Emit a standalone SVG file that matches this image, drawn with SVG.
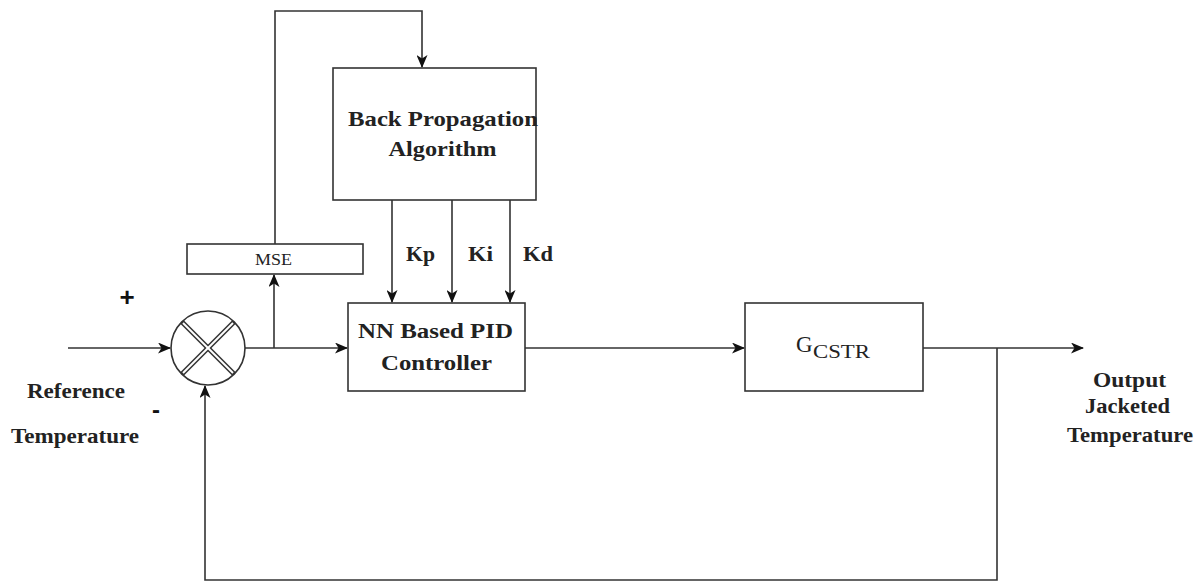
<svg xmlns="http://www.w3.org/2000/svg" width="1203" height="583" viewBox="0 0 1203 583">
  <style>
    .box { fill: #ffffff; stroke: #333333; stroke-width: 1.6; }
    .wire { fill: none; stroke: #333333; stroke-width: 1.6; }
    .lbl { font-family: "Liberation Serif", "Times New Roman", serif; font-weight: bold; font-size: 22px; fill: #222222; text-anchor: middle; }
    .side { font-size: 20px; }
    .sign { font-family: "Liberation Sans", Arial, sans-serif; font-weight: bold; fill: #111111; text-anchor: middle; }
  </style>
  <defs>
    <marker id="arrow" viewBox="0 0 13 11" refX="12" refY="5.5" markerWidth="13" markerHeight="11" markerUnits="userSpaceOnUse" orient="auto">
      <path d="M0,0 L13,5.5 L0,11 L3.5,5.5 Z" fill="#111111"/>
    </marker>
  </defs>
  <rect width="1203" height="583" fill="#ffffff"/>

  <!-- signal lines -->
  <g id="connectors">
    <line class="wire" x1="68" y1="348" x2="170" y2="348" marker-end="url(#arrow)"/>
    <line class="wire" x1="245" y1="348" x2="347" y2="348" marker-end="url(#arrow)"/>
    <line class="wire" x1="274" y1="348" x2="274" y2="275" marker-end="url(#arrow)"/>
    <polyline class="wire" points="275,244 275,11 422,11 422,67" marker-end="url(#arrow)"/>
    <line class="wire" x1="392" y1="200" x2="392" y2="302" marker-end="url(#arrow)"/>
    <line class="wire" x1="452" y1="200" x2="452" y2="302" marker-end="url(#arrow)"/>
    <line class="wire" x1="510" y1="200" x2="510" y2="302" marker-end="url(#arrow)"/>
    <line class="wire" x1="525" y1="348" x2="744" y2="348" marker-end="url(#arrow)"/>
    <line class="wire" x1="923" y1="348" x2="1083" y2="348" marker-end="url(#arrow)"/>
    <polyline class="wire" points="997,348 997,580 205,580 205,386" marker-end="url(#arrow)"/>
  </g>

  <!-- summing junction -->
  <g id="sum">
    <circle cx="208" cy="348" r="37" fill="#ffffff" stroke="#333333" stroke-width="1.6"/>
    <line x1="182" y1="322" x2="234" y2="374" stroke="#333333" stroke-width="5"/>
    <line x1="182" y1="374" x2="234" y2="322" stroke="#333333" stroke-width="5"/>
    <line x1="183" y1="323" x2="233" y2="373" stroke="#ffffff" stroke-width="2"/>
    <line x1="183" y1="373" x2="233" y2="323" stroke="#ffffff" stroke-width="2"/>
    <text class="sign" x="127" y="306" font-size="26">+</text>
    <text class="sign" x="156" y="418" font-size="24">-</text>
  </g>

  <g id="mse">
    <rect class="box" x="187" y="244" width="176" height="30"/>
    <text x="273.5" y="265" font-family="Liberation Serif, serif" font-size="17" fill="#222222" text-anchor="middle" textLength="37" lengthAdjust="spacingAndGlyphs">MSE</text>
  </g>

  <g id="backprop">
    <rect class="box" x="333" y="68" width="203" height="132"/>
    <text class="lbl" x="443" y="126" textLength="190" lengthAdjust="spacingAndGlyphs">Back Propagation</text>
    <text class="lbl" x="442.5" y="156" textLength="108" lengthAdjust="spacingAndGlyphs">Algorithm</text>
  </g>

  <g id="gains">
    <text class="lbl" x="420.5" y="261" textLength="29" lengthAdjust="spacingAndGlyphs">Kp</text>
    <text class="lbl" x="480.5" y="261" textLength="25" lengthAdjust="spacingAndGlyphs">Ki</text>
    <text class="lbl" x="538" y="261" textLength="30" lengthAdjust="spacingAndGlyphs">Kd</text>
  </g>

  <g id="controller">
    <rect class="box" x="348" y="303" width="177" height="88"/>
    <text class="lbl" x="435.5" y="338" textLength="155" lengthAdjust="spacingAndGlyphs">NN Based PID</text>
    <text class="lbl" x="436.5" y="370" textLength="111" lengthAdjust="spacingAndGlyphs">Controller</text>
  </g>

  <g id="plant">
    <rect class="box" x="745" y="303" width="178" height="88"/>
    <text x="796" y="352" font-family="Liberation Serif, serif" font-size="23" fill="#222222">G<tspan x="813" y="358" font-size="18" textLength="57" lengthAdjust="spacingAndGlyphs">CSTR</tspan></text>
  </g>

  <g id="reference">
    <text class="lbl side" x="76" y="398" textLength="98" lengthAdjust="spacingAndGlyphs">Reference</text>
    <text class="lbl side" x="75" y="443" textLength="128" lengthAdjust="spacingAndGlyphs">Temperature</text>
  </g>

  <g id="output">
    <text class="lbl side" x="1129.5" y="387" textLength="73" lengthAdjust="spacingAndGlyphs">Output</text>
    <text class="lbl side" x="1127.5" y="413" textLength="85" lengthAdjust="spacingAndGlyphs">Jacketed</text>
    <text class="lbl side" x="1130" y="442" textLength="126" lengthAdjust="spacingAndGlyphs">Temperature</text>
  </g>
</svg>
